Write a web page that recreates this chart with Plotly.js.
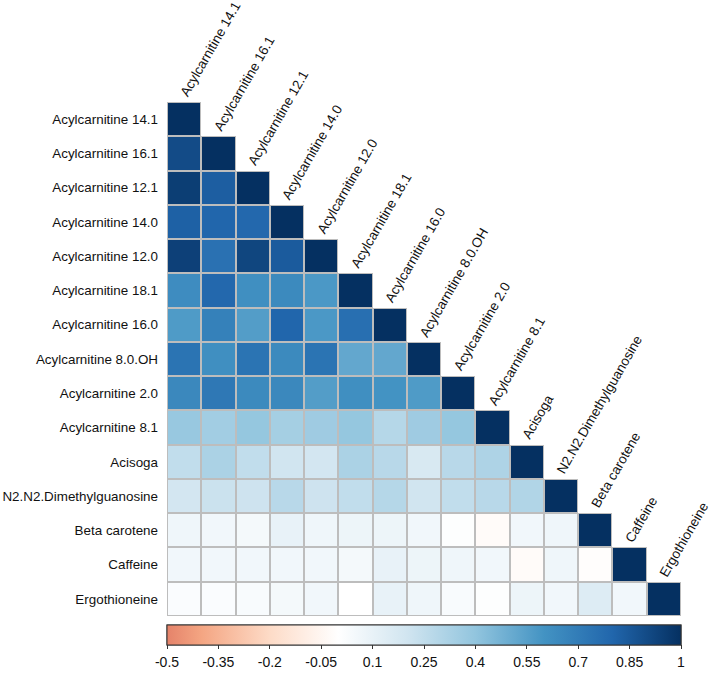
<!DOCTYPE html>
<html>
<head>
<meta charset="utf-8">
<script src="https://cdn.plot.ly/plotly-3.0.1.min.js"></script>
<style>html,body{margin:0;padding:0;background:#fff;}#chart{width:709px;height:673px;}</style>
</head>
<body>
<div id="chart"></div>
<script>
var labels = ["Acylcarnitine 14.1","Acylcarnitine 16.1","Acylcarnitine 12.1","Acylcarnitine 14.0","Acylcarnitine 12.0","Acylcarnitine 18.1","Acylcarnitine 16.0","Acylcarnitine 8.0.OH","Acylcarnitine 2.0","Acylcarnitine 8.1","Acisoga","N2.N2.Dimethylguanosine","Beta carotene","Caffeine","Ergothioneine"];

// lower-triangle rows (including diagonal)
var row01 = [1];
var row02 = [0.90, 1];
var row03 = [0.95, 0.83, 1];
var row04 = [0.82, 0.80, 0.79, 1];
var row05 = [0.94, 0.75, 0.92, 0.84, 1];
var row06 = [0.63, 0.79, 0.62, 0.64, 0.58, 1];
var row07 = [0.57, 0.68, 0.56, 0.80, 0.58, 0.76, 1];
var row08 = [0.74, 0.62, 0.74, 0.64, 0.74, 0.52, 0.52, 1];
var row09 = [0.65, 0.72, 0.64, 0.65, 0.56, 0.62, 0.60, 0.57, 1];
var row10 = [0.38, 0.35, 0.39, 0.34, 0.36, 0.39, 0.29, 0.36, 0.39, 1];
var row11 = [0.25, 0.32, 0.25, 0.20, 0.19, 0.32, 0.28, 0.17, 0.28, 0.31, 1];
var row12 = [0.19, 0.22, 0.21, 0.28, 0.21, 0.25, 0.29, 0.20, 0.25, 0.28, 0.30, 1];
var row13 = [0.07, 0.06, 0.05, 0.10, 0.07, 0.08, 0.08, 0.06, 0.01, -0.02, 0.06, 0.07, 1];
var row14 = [0.06, 0.06, 0.06, 0.06, 0.06, 0.05, 0.10, 0.08, 0.07, 0.06, -0.02, 0.07, -0.01, 1];
var row15 = [0.02, 0.02, 0.03, 0.05, 0.06, 0.00, 0.10, 0.07, 0.03, 0.01, 0.08, 0.06, 0.15, 0.06, 1];

var colorbarTicks = [-0.5, -0.35, -0.2, -0.05, 0.1, 0.25, 0.4, 0.55, 0.7, 0.85, 1];
var colorbarTickText = ["-0.5","-0.35","-0.2","-0.05","0.1","0.25","0.4","0.55","0.7","0.85","1"];

var rows = [row01,row02,row03,row04,row05,row06,row07,row08,row09,row10,row11,row12,row13,row14,row15];
var n = labels.length;
var idx = labels.map(function(_, i){ return i; });

var z = rows.map(function(r){
  var out = [];
  for (var j = 0; j < n; j++) out.push(j < r.length ? r[j] : null);
  return out;
});
var zBg = rows.map(function(r){
  var out = [];
  for (var j = 0; j < n; j++) out.push(j < r.length ? 1 : null);
  return out;
});

var cmin = -0.5, cmax = 1;
function pos(v){ return (v - cmin) / (cmax - cmin); }
var colorscale = [
  [pos(-0.5), "#E5836A"],
  [pos(-0.4), "#F4A582"],
  [pos(-0.2), "#FDDBC7"],
  [pos(0.0), "#FFFFFF"],
  [pos(0.2), "#D1E5F0"],
  [pos(0.4), "#92C5DE"],
  [pos(0.6), "#4393C3"],
  [pos(0.8), "#2166AC"],
  [pos(1.0), "#053061"]
];

var font = "Liberation Sans, Arial, Helvetica, sans-serif";

var cbBase = {
  orientation: "h",
  x: 0.5, xanchor: "center",
  y: -0.0175, yanchor: "top",
  len: 1, lenmode: "fraction",
  thickness: 20, thicknessmode: "pixels",
  xpad: 0, ypad: 0,
  outlinewidth: 1, outlinecolor: "#333",
  tickvals: colorbarTicks, ticktext: colorbarTickText,
  tickfont: {family: font, size: 14, color: "#111"}
};
function cb(extra){ var o = {}; for (var k in cbBase) o[k] = cbBase[k]; for (var k2 in extra) o[k2] = extra[k2]; return o; }

var bg = {
  type: "heatmap", x: idx, y: idx, z: zBg,
  colorscale: [[0, "#BDBDBD"], [1, "#BDBDBD"]],
  showscale: false, hoverinfo: "skip"
};
// colorbar with labels (tick marks transparent, sets the label gap)
var hmLabels = {
  type: "heatmap", x: idx, y: idx, z: z,
  colorscale: colorscale, zmin: cmin, zmax: cmax,
  xgap: 2, ygap: 2, hoverinfo: "skip",
  colorbar: cb({ticks: "outside", ticklen: 5, tickwidth: 1, tickcolor: "rgba(0,0,0,0)", showticklabels: true})
};
// colorbar with short visible tick marks
var hm = {
  type: "heatmap", x: idx, y: idx, z: z,
  colorscale: colorscale, zmin: cmin, zmax: cmax,
  xgap: 2, ygap: 2, hoverinfo: "skip",
  colorbar: cb({ticks: "outside", ticklen: 4, tickwidth: 1, tickcolor: "#333", showticklabels: false})
};

var annotations = labels.map(function(lab, j){
  return {
    x: j, y: j - 0.5, xref: "x", yref: "y",
    text: lab, showarrow: false, textangle: -60,
    xanchor: "left", yanchor: "bottom",
    xshift: -10, yshift: 0,
    font: {family: font, size: 13.5, color: "#111"}
  };
});

var layout = {
  width: 709, height: 673,
  margin: {l: 167, r: 28, t: 102, b: 57, pad: 0, autoexpand: false},
  paper_bgcolor: "#fff", plot_bgcolor: "#fff",
  showlegend: false,
  xaxis: {range: [-0.5, n - 0.5], showgrid: false, zeroline: false, showticklabels: false, ticks: "", showline: false},
  yaxis: {range: [n - 0.5, -0.5], showgrid: false, zeroline: false, tickvals: idx, ticktext: labels, ticks: "", showline: false,
          ticklabelstandoff: 8, tickfont: {family: font, size: 13.4, color: "#111"}},
  annotations: annotations
};

Plotly.newPlot("chart", [bg, hmLabels, hm], layout, {displayModeBar: false, staticPlot: true});
</script>
</body>
</html>
